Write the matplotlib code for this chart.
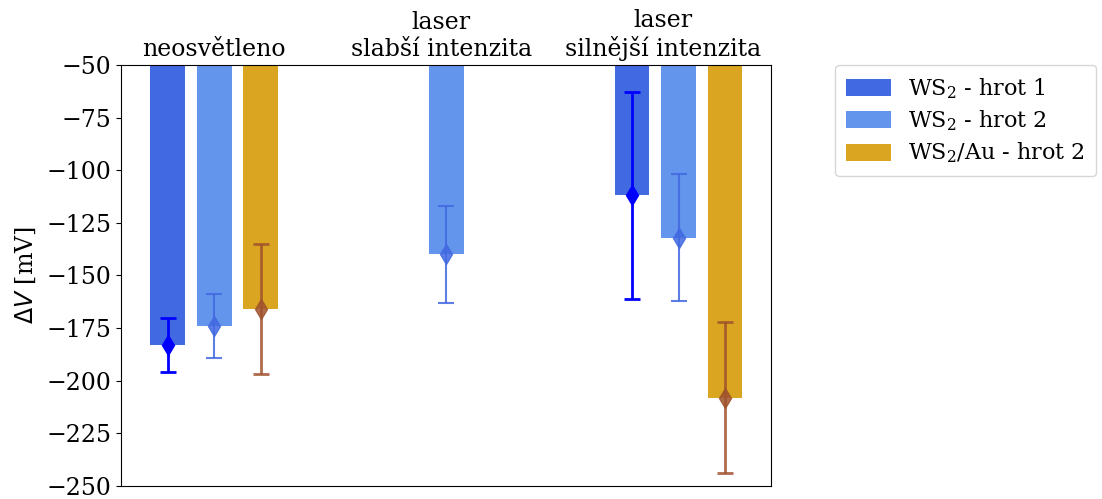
import numpy as np
import matplotlib
matplotlib.use("Agg")
import matplotlib.pyplot as plt
from matplotlib.font_manager import FontProperties

plt.rcParams['font.family'] = 'DejaVu Serif'
plt.rcParams['font.size'] = 17

# measurement conditions (top labels) and series
conditions = ['neosvětleno', 'laser\nslabší intenzita', 'laser\nsilnější intenzita']
label_pos = [0.0, 0.978, 1.935]
series = ['WS$_2$ - hrot 1', 'WS$_2$ - hrot 2', 'WS$_2$/Au - hrot 2']

# mean dV [mV] and error; nan = not measured
dv_hrot1 = [-183, np.nan, -112]
err_hrot1 = [13, np.nan, 49]
dv_hrot2 = [-174, -140, -132]
err_hrot2 = [15, 23, 30]
dv_au = [-166, np.nan, -208]
err_au = [31, np.nan, 36]

bar_colors = ['royalblue', 'cornflowerblue', 'goldenrod']
err_colors = ['blue', 'royalblue', 'sienna']
err_widths = [2.0, 1.5, 2.0]

x = np.arange(len(conditions))
offsets = [-0.2, 0.0, 0.2]
width = 0.15

fig, ax = plt.subplots(figsize=(11.02, 4.99), dpi=100)
fig.subplots_adjust(left=0.11, right=0.70, top=0.87, bottom=0.026)

data = [(dv_hrot1, err_hrot1), (dv_hrot2, err_hrot2), (dv_au, err_au)]
for i, (vals, errs) in enumerate(data):
    vals = np.array(vals, dtype=float)
    errs = np.array(errs, dtype=float)
    ax.bar(x + offsets[i], vals, width, color=bar_colors[i], label=series[i])
    ax.errorbar(x + offsets[i], vals, yerr=errs, fmt='d', color=err_colors[i],
                ecolor=err_colors[i], elinewidth=err_widths[i], capsize=6,
                capthick=err_widths[i], markersize=10, alpha=0.85 if i else 1.0)

ax.set_ylim(-250, -50)
ax.set_yticks(np.arange(-250, -49, 25))
ax.set_xlim(-0.4, 2.4)
ax.set_ylabel(r'$\Delta V$ [mV]', math_fontfamily='dejavusans', labelpad=6)

ax.xaxis.tick_top()
ax.set_xticks(label_pos)
ax.set_xticklabels(conditions)
ax.tick_params(axis='x', length=0, pad=3)

leg_font = FontProperties(family='DejaVu Serif', size=16, math_fontfamily='dejavuserif')
ax.legend(loc='upper left', bbox_to_anchor=(1.098, 1.0), borderaxespad=0, prop=leg_font,
          handlelength=2.0, handleheight=0.8, borderpad=0.5, labelspacing=0.35)

fig.savefig('out.png', dpi=100)
